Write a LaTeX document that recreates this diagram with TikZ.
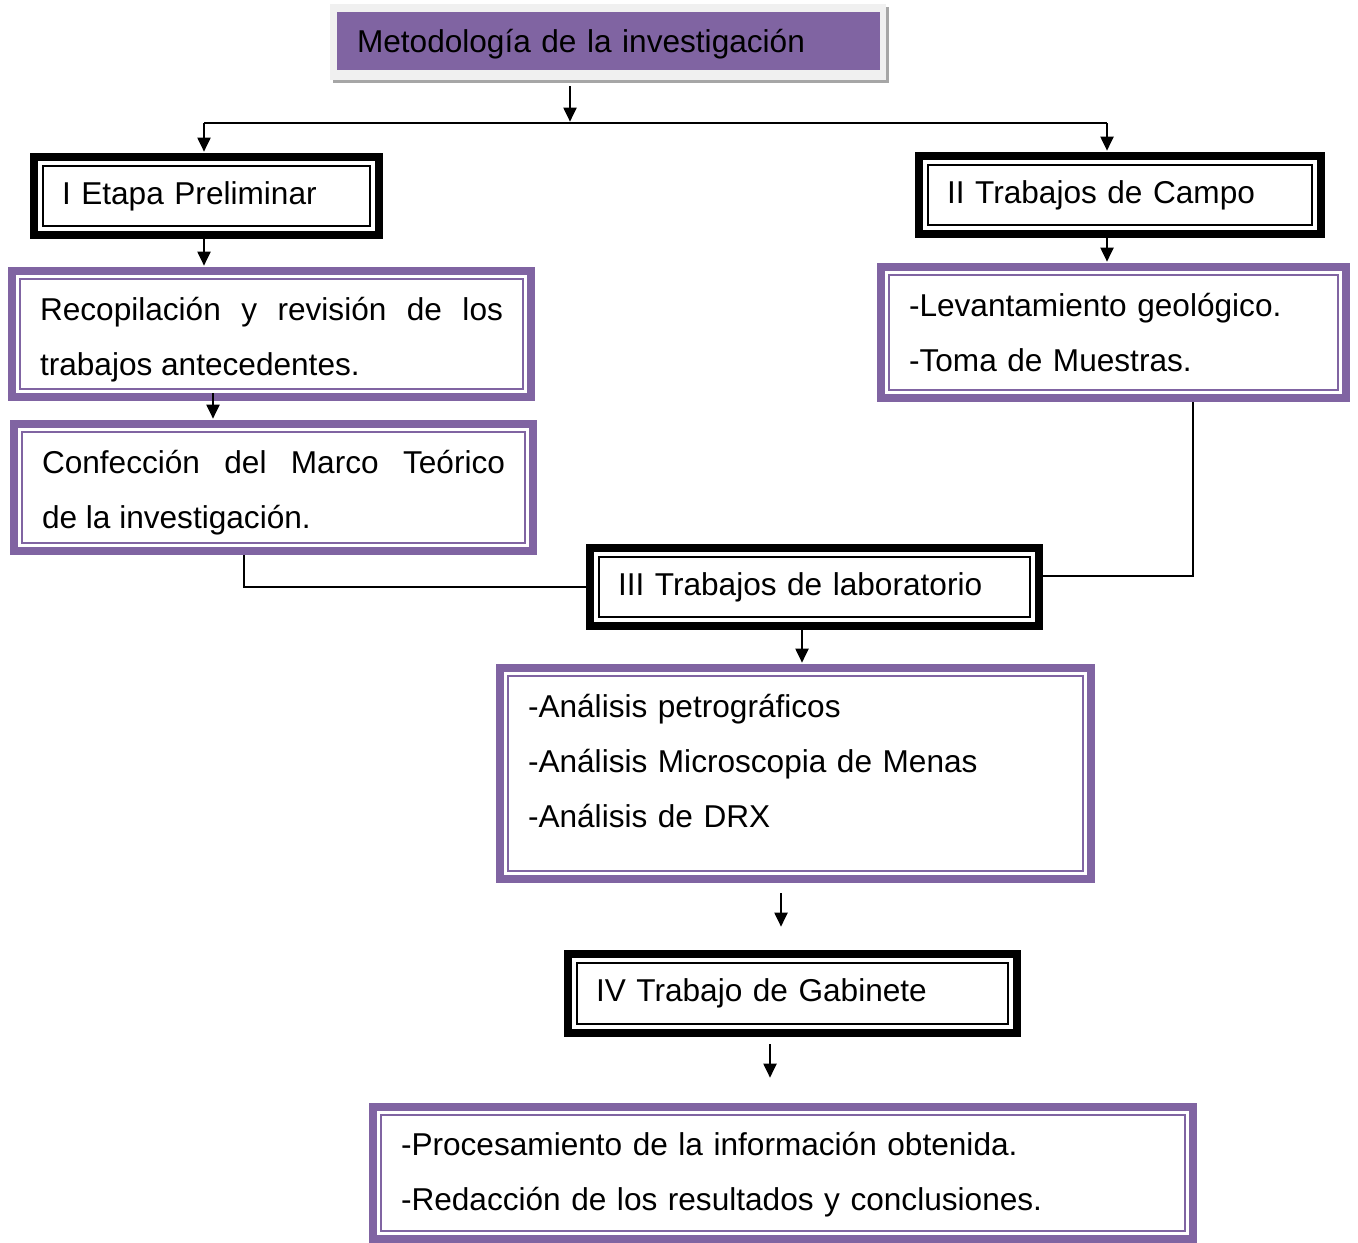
\documentclass[tikz,border=0pt]{standalone}
\usepackage{fontspec}
\setmainfont{Liberation Sans}
\usetikzlibrary{arrows.meta,calc}
\newlength{\px}\setlength{\px}{0.75pt}
\definecolor{pur}{HTML}{8064A2}
\definecolor{shadowgray}{HTML}{A6A6A6}
\definecolor{lightgraytwo}{HTML}{F0F0F0}
\newcommand{\upstrut}[1]{\rule{0pt}{#1}}
\begin{document}
\begin{tikzpicture}[x=0.75pt,y=-0.75pt,
  txt/.style={font={\fontsize{23.7}{41.25}\selectfont}, text=black},
  blackbox/.style={txt, draw=black, line width=6pt, fill=white, align=left, inner sep=0pt,
    path picture={\draw[black,line width=1.5pt] ([shift={(6.4pt,6.4pt)}]path picture bounding box.south west) rectangle ([shift={(-6.4pt,-6.4pt)}]path picture bounding box.north east);}},
  purbox/.style={txt, draw=pur, line width=6pt, fill=white, align=left, inner sep=0pt,
    path picture={\draw[pur,line width=1.5pt] ([shift={(6pt,6pt)}]path picture bounding box.south west) rectangle ([shift={(-6pt,-6pt)}]path picture bounding box.north east);}},
  titlebox/.style={txt, fill=pur, align=left, inner sep=0pt},
  arr/.style={line width=1.5pt, -{Triangle[length=10.5pt,width=9.75pt]}, shorten >=1pt},
  conn/.style={line width=1.5pt}]
\useasboundingbox (0,0) rectangle (1358,1242);

% title
\fill[shadowgray] (333,7) rectangle (889,83);
\fill[lightgraytwo] (330,4) rectangle (886,80);
\node[titlebox, minimum width=543\px, minimum height=58\px, text width=503\px] (title) at (608.5,41) {\upstrut{22pt}Metodología de la investigación};

% stage boxes
\node[blackbox, minimum width=345\px, minimum height=78\px, text width=289\px] (boxI) at (206.5,196) {I Etapa Preliminar};
\node[blackbox, minimum width=402\px, minimum height=78\px, text width=346\px] (boxII) at (1120,195) {II Trabajos de Campo};
\node[blackbox, minimum width=449\px, minimum height=78\px, text width=393\px] (lab) at (814.5,587) {III Trabajos de laboratorio};
\node[blackbox, minimum width=449\px, minimum height=79\px, text width=393\px] (gab) at (792.5,993.5) {IV Trabajo de Gabinete};

% detail boxes
\node[purbox, align=justify, minimum width=519\px, minimum height=126\px, text width=463\px] (recop) at (271.5,334) {\upstrut{26.4pt}Recopilación y revisión de los\linebreak trabajos antecedentes.};
\node[purbox, align=justify, minimum width=519\px, minimum height=127\px, text width=463\px] (confec) at (273.5,487.5) {\upstrut{25pt}Confección del Marco Teórico\linebreak de la investigación.};
\node[purbox, minimum width=465\px, minimum height=131\px, text width=409\px] (campo) at (1113.5,332.5) {-Levantamiento geológico.\\-Toma de Muestras.};
\node[purbox, minimum width=591\px, minimum height=211\px, text width=535\px] (analisis) at (795.5,773.5) {-Análisis petrográficos\\-Análisis Microscopia de Menas\\-Análisis de DRX\\[-22.5pt]\mbox{}};
\node[purbox, minimum width=820\px, minimum height=132\px, text width=764\px] (final) at (783,1173) {\upstrut{20.5pt}-Procesamiento de la información obtenida.\\-Redacción de los resultados y conclusiones.};

% connectors
\coordinate (splitC) at (570,123);
\coordinate (splitL) at (204,123);
\coordinate (splitR) at (1107,123);
\draw[arr] ($(title.south -| splitC)+(0,16)$) -- (splitC);
\draw[conn] (splitL) -- (splitR);
\draw[arr] (splitL) -- (splitL |- boxI.north);
\draw[arr] (splitR) -- (splitR |- boxII.north);
\draw[arr] (boxI.south -| splitL) -- (splitL |- recop.north);
\draw[arr] (boxII.south -| splitR) -- (splitR |- campo.north);
\draw[arr] ($(recop.south)+(-58.5,-8)$) -- ($(confec.north)+(-60.5,0)$);
\draw[conn] ($(confec.south)+(-29.5,0)$) |- (lab.west);
\draw[conn] ($(campo.south)+(79.5,0)$) |- ($(lab.east)+(0,-11)$);
\draw[arr] ($(lab.south)+(-12.5,0)$) -- ($(analisis.north)+(6.5,0)$);
\draw[arr] ($(analisis.south)+(-14.5,10)$) -- ($(gab.north)+(-11.5,-22)$);
\draw[arr] ($(gab.south)+(-22.5,7)$) -- ($(final.north)+(-13,-24)$);
\end{tikzpicture}
\end{document}
